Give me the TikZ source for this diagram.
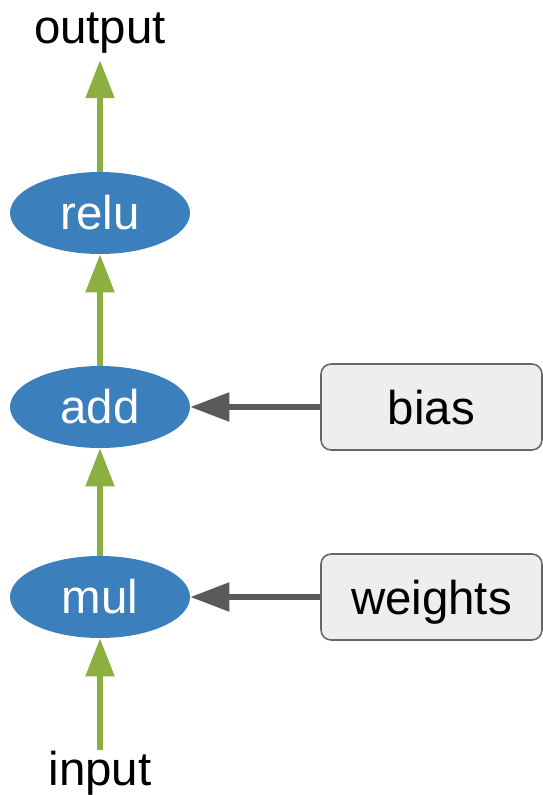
\documentclass[tikz,border=0pt]{standalone}
\usepackage{fontspec}
\setmainfont{Liberation Sans}
\usepackage{tikz}
\usetikzlibrary{arrows.meta,shapes.geometric}
\usepackage{xcolor}
\definecolor{opblue}{HTML}{3B80BC}
\definecolor{flowgreen}{HTML}{8DAF42}
\definecolor{feedgray}{HTML}{5A5A5A}
\definecolor{boxfill}{HTML}{EEEEEE}
\definecolor{boxedge}{HTML}{666666}

\begin{document}
\begin{tikzpicture}[x=0.02cm,y=-0.02cm,font=\fontsize{27}{32}\selectfont,
  op/.style={ellipse, fill=opblue, text=white, minimum width=3.6cm, minimum height=1.64cm, inner sep=0pt},
  param/.style={rectangle, rounded corners=0.2cm, draw=boxedge, fill=boxfill, line width=0.9pt,
    minimum width=4.42cm, minimum height=1.72cm, text depth=0pt},
  flow/.style={-{Triangle[length=0.76cm,width=0.56cm]}, draw=flowgreen, line width=3pt},
  feed/.style={-{Triangle[length=0.78cm,width=0.56cm]}, draw=feedgray, line width=3.2pt}]
\useasboundingbox (0,0) rectangle (543,795);

% operations
\node[op] (relu) at (100,213) {relu};
\node[op] (add) at (100,407) {add};
\node[op] (mul) at (100,597) {mul};

% parameters
\node[param] (bias) at (431.5,407) {bias};
\node[param] (weights) at (431.5,597) {weights};

% ends
\node[inner sep=0.14cm, anchor=base] (output) at (100,43) {output};
\node[inner sep=0pt, anchor=base] (input) at (100,785) {input};

% data flow
\draw[flow] (input) -- (mul);
\draw[flow] (mul) -- (add);
\draw[flow] (add) -- (relu);
\draw[flow] (relu) -- (output);

% parameter inputs
\draw[feed] (bias) -- (add);
\draw[feed] (weights) -- (mul);
\end{tikzpicture}
\end{document}
